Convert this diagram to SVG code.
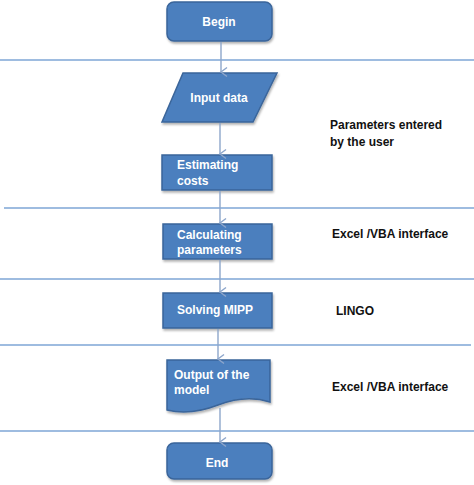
<svg xmlns="http://www.w3.org/2000/svg" width="474" height="485" viewBox="0 0 474 485">
<style>
.sep{stroke:#7EA6D6;stroke-width:1.6;fill:none}
.con{stroke:#8DA6CB;stroke-width:1.4;fill:none}
.box{fill:#4C7FBE;stroke:#3A659A;stroke-width:1.5}
.bt{font-family:"Liberation Sans",Arial,sans-serif;font-size:12px;font-weight:bold;fill:#FFFFFF}
.lt{font-family:"Liberation Sans",Arial,sans-serif;font-size:12px;font-weight:bold;fill:#111111}
</style>
<defs>
<marker id="arr" markerWidth="12" markerHeight="12" refX="6" refY="10" orient="auto" markerUnits="userSpaceOnUse" viewBox="0 0 12 12">
<polyline points="1.5,4 6,10 10.5,4" fill="none" stroke="#8DA6CB" stroke-width="1.4"/>
</marker>
<filter id="sh" x="-10%" y="-10%" width="130%" height="140%">
<feDropShadow dx="1" dy="2" stdDeviation="1.2" flood-color="#000" flood-opacity="0.3"/>
</filter>
</defs>
<rect width="474" height="485" fill="#FFFFFF"/>
<g id="separators">
<line class="sep" x1="0" y1="60" x2="474" y2="60"/>
<line class="sep" x1="4" y1="208" x2="474" y2="208"/>
<line class="sep" x1="0" y1="279" x2="474" y2="279"/>
<line class="sep" x1="0" y1="345" x2="471" y2="345"/>
<line class="sep" x1="0" y1="431" x2="474" y2="431"/>
</g>
<g id="begin">
<rect class="box" x="167" y="2" width="105" height="39" rx="7" filter="url(#sh)"/>
<text class="bt" x="219" y="26" text-anchor="middle">Begin</text>
</g>
<g id="input-data">
<polygon class="box" points="183,73 277,73 253,122 162,122" filter="url(#sh)"/>
<text class="bt" x="219" y="102" text-anchor="middle">Input data</text>
</g>
<g id="estimating-costs">
<rect class="box" x="162" y="155" width="110" height="35" filter="url(#sh)"/>
<text class="bt" x="177" y="169">Estimating</text>
<text class="bt" x="177" y="185">costs</text>
</g>
<g id="calculating-parameters">
<rect class="box" x="163" y="224" width="109" height="35" filter="url(#sh)"/>
<text class="bt" x="177" y="239">Calculating</text>
<text class="bt" x="177" y="254">parameters</text>
</g>
<g id="solving-mipp">
<rect class="box" x="163" y="293" width="109" height="35" filter="url(#sh)"/>
<text class="bt" x="177" y="314">Solving MIPP</text>
</g>
<g id="output">
<path class="box" d="M167,360 H270 V402 C252,396 236,398 218,405 C200,412 184,414 167,410 Z" filter="url(#sh)"/>
<text class="bt" x="174" y="379">Output of the</text>
<text class="bt" x="174" y="394">model</text>
</g>
<g id="end">
<rect class="box" x="167" y="443" width="105" height="36" rx="7" filter="url(#sh)"/>
<text class="bt" x="217" y="467" text-anchor="middle">End</text>
</g>
<g id="connectors">
<line class="con" x1="221" y1="42" x2="221" y2="72" marker-end="url(#arr)"/>
<line class="con" x1="220" y1="123" x2="220" y2="154" marker-end="url(#arr)"/>
<line class="con" x1="220" y1="191" x2="220" y2="223" marker-end="url(#arr)"/>
<line class="con" x1="220" y1="260" x2="220" y2="292" marker-end="url(#arr)"/>
<line class="con" x1="218" y1="329" x2="218" y2="359" marker-end="url(#arr)"/>
<line class="con" x1="220" y1="408" x2="220" y2="442" marker-end="url(#arr)"/>
</g>
<g id="labels">
<text class="lt" x="330" y="129">Parameters entered</text>
<text class="lt" x="330" y="146">by the user</text>
<text class="lt" x="332" y="238">Excel /VBA interface</text>
<text class="lt" x="336" y="315">LINGO</text>
<text class="lt" x="332" y="391">Excel /VBA interface</text>
</g>
</svg>
